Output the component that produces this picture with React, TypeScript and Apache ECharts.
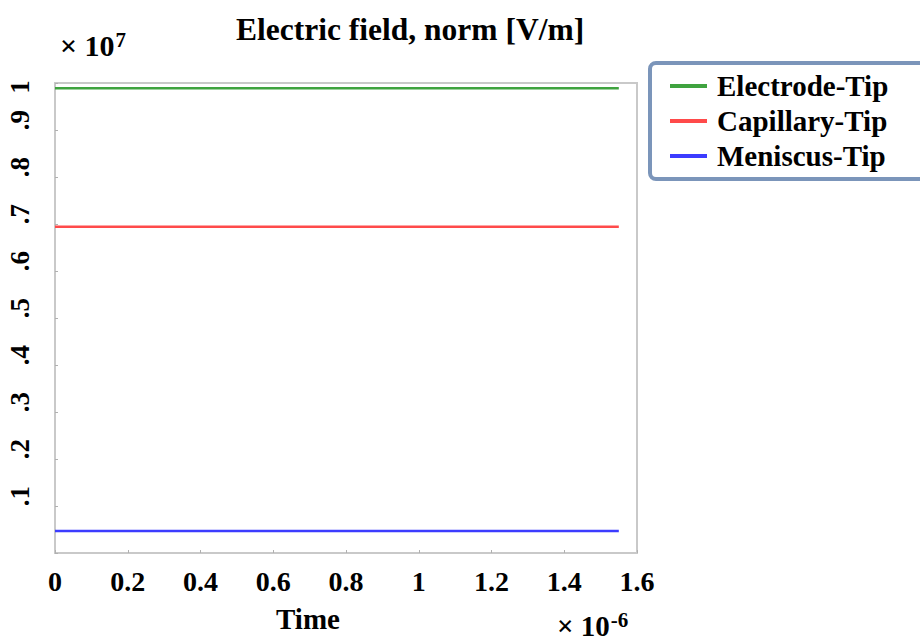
import React, { useEffect, useRef } from "react";
import * as echarts from "echarts";

const timeSeconds = [0, 1.55e-6];
const electrodeTip = [9.89e6, 9.89e6];
const capillaryTip = [6.94e6, 6.94e6];
const meniscusTip = [4.7e5, 4.7e5];
const seriesNames = ["Electrode-Tip", "Capillary-Tip", "Meniscus-Tip"];
const seriesColors = ["#3fa33f", "#ff4a4a", "#3c3cff"];

const FONT = "'Liberation Serif', 'DejaVu Serif', serif";

export default function App() {
  const ref = useRef<HTMLDivElement>(null);
  useEffect(() => {
    if (!ref.current) return;
    const chart = echarts.init(ref.current, undefined, { renderer: "svg" });
    const values = [electrodeTip, capillaryTip, meniscusTip];
    const supStyle = {
      fontFamily: FONT,
      fontWeight: "bold",
      fontSize: 21,
      verticalAlign: "top",
      padding: [0, 0, 12, 1],
    };
    chart.setOption({
      animation: false,
      backgroundColor: "#ffffff",
      grid: {
        left: 55,
        right: 283,
        top: 83,
        bottom: 89,
        show: true,
        borderColor: "#c9c9c9",
        borderWidth: 2,
      },
      legend: {
        left: 650,
        top: 63,
        orient: "vertical",
        icon: "rect",
        itemWidth: 37,
        itemHeight: 4,
        itemGap: 1,
        padding: [6, 40, 6, 20],
        borderColor: "#7b95ba",
        borderWidth: 4,
        borderRadius: 6,
        textStyle: {
          fontFamily: FONT,
          fontWeight: "bold",
          fontSize: 29,
          color: "#000",
          lineHeight: 34,
          padding: [0, 0, 0, 5],
        },
        data: seriesNames,
      },
      xAxis: {
        type: "value",
        min: 0,
        max: 1.6e-6,
        interval: 0.2e-6,
        axisLine: { show: true, lineStyle: { color: "#c9c9c9", width: 2 } },
        axisTick: { show: true, inside: true, length: 3, lineStyle: { color: "#b0b0b0" } },
        splitLine: { show: false },
        axisLabel: {
          margin: 14,
          fontFamily: FONT,
          fontWeight: "bold",
          fontSize: 28,
          color: "#000",
          formatter: (v: number) => String(Math.round(v / 1e-7) / 10),
        },
      },
      yAxis: {
        type: "value",
        min: 0,
        max: 1e7,
        interval: 1e6,
        axisLine: { show: true, lineStyle: { color: "#c9c9c9", width: 2 } },
        axisTick: { show: true, inside: true, length: 3, lineStyle: { color: "#b0b0b0" } },
        splitLine: { show: false },
        axisLabel: {
          rotate: 90,
          margin: 22,
          fontFamily: FONT,
          fontWeight: "bold",
          fontSize: 27,
          color: "#000",
          padding: [0, 0, 0, 20],
          formatter: (v: number) => {
            const r = Math.round(v / 1e6);
            if (r === 0) return "";
            if (r === 10) return "{one|1}";
            return "." + r;
          },
          rich: {
            one: {
              fontFamily: FONT,
              fontWeight: "bold",
              fontSize: 27,
              color: "#000",
              padding: [0, 28, 0, 0],
            },
          },
        },
      },
      graphic: [
        {
          type: "text",
          left: 236,
          top: 13,
          style: {
            text: "Electric field, norm [V/m]",
            fontFamily: FONT,
            fontWeight: "bold",
            fontSize: 31.5,
            fill: "#000",
          },
        },
        {
          type: "text",
          left: 60,
          top: 29,
          style: {
            text: "× 10{sup|7}",
            fontFamily: FONT,
            fontWeight: "bold",
            fontSize: 30,
            fill: "#000",
            rich: { sup: supStyle },
          },
        },
        {
          type: "text",
          left: 276,
          top: 604,
          style: {
            text: "Time",
            fontFamily: FONT,
            fontWeight: "bold",
            fontSize: 29,
            fill: "#000",
          },
        },
        {
          type: "text",
          left: 557,
          top: 609,
          style: {
            text: "× 10{sup|-6}",
            fontFamily: FONT,
            fontWeight: "bold",
            fontSize: 29,
            fill: "#000",
            rich: { sup: supStyle },
          },
        },
      ],
      series: seriesNames.map((name, i) => ({
        name,
        type: "line",
        showSymbol: false,
        symbol: "none",
        data: timeSeconds.map((t, j) => [t, values[i][j]]),
        lineStyle: { color: seriesColors[i], width: 2.5 },
        itemStyle: { color: seriesColors[i] },
      })),
    });
    return () => chart.dispose();
  }, []);
  return (
    <div
      ref={ref}
      style={{ position: "fixed", left: 0, top: 0, width: 920, height: 642 }}
    />
  );
}
